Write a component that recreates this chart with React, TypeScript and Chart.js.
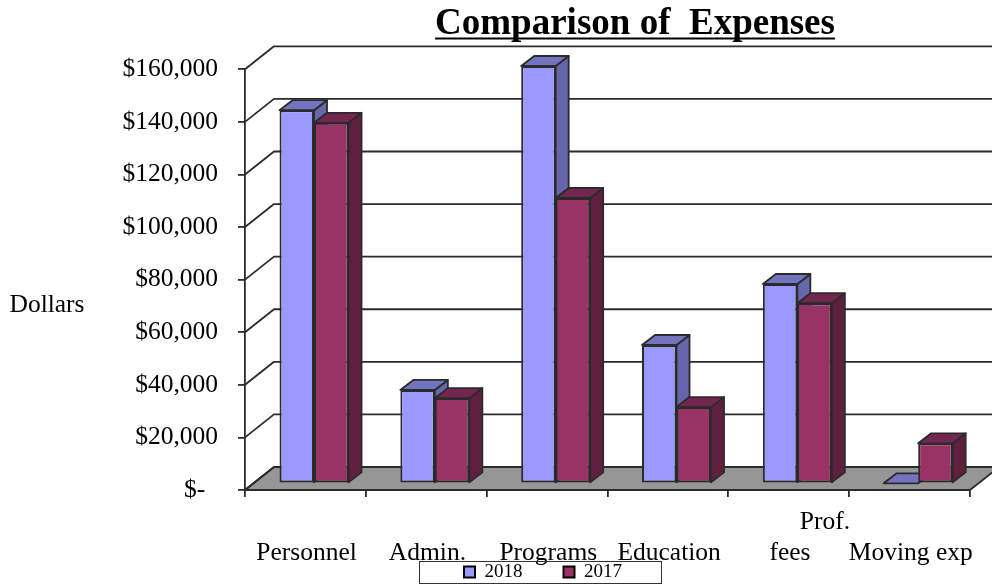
import React, { useEffect, useRef } from "react";
import { Chart, registerables } from "chart.js";

Chart.register(...registerables);

const categories: (string | string[])[] = [
  ["", "Personnel"],
  ["", "Admin."],
  ["", "Programs"],
  ["", "Education"],
  ["           Prof.", "fees"],
  ["", "Moving exp"],
];
const series2018 = [141900, 35500, 158700, 52600, 75800, 0];
const series2017 = [137100, 32400, 108500, 29000, 68500, 15200];
const chartTitle = "Comparison of  Expenses";
const yAxisTitle = "Dollars";
const FONT = "'Liberation Serif', serif";
const TEXT_SIZE = 25.5;

const WALL = { dx: 29, dy: 23 };
const BAR_SHIFT = { dx: 8.6, dy: 6.7 };
const BAR_DEPTH = { dx: 13, dy: 10 };
const LINE = "#2b2b2b";
const shades: Record<number, { top: string; side: string }> = {
  0: { top: "#7373BF", side: "#6666AA" },
  1: { top: "#732650", side: "#5F2040" },
};

const poly = (ctx: CanvasRenderingContext2D, pts: number[][], fill: string | null, stroke: string | null, lw = 1.8) => {
  ctx.beginPath();
  pts.forEach((p, i) => (i ? ctx.lineTo(p[0], p[1]) : ctx.moveTo(p[0], p[1])));
  ctx.closePath();
  if (fill) { ctx.fillStyle = fill; ctx.fill(); }
  if (stroke) { ctx.strokeStyle = stroke; ctx.lineWidth = lw; ctx.lineJoin = "round"; ctx.stroke(); }
};

const threeD = {
  id: "threeD",
  beforeDraw(chart: any) {
    // place title and legend where the reference has them
    const tb = chart.titleBlock;
    tb.left = 300; tb.right = 970;
    const lg = chart.legend;
    const pad = lg.options.labels.padding;
    lg.left = 413; lg.right = 673; lg.top = 562.5 - pad; lg.bottom = 584;

    const ctx = chart.ctx;
    const x = chart.scales.x, y = chart.scales.y;
    const l = x.left, r = x.right, b = y.bottom;
    ctx.save();
    poly(ctx, [[l, b], [r, b], [r + WALL.dx, b - WALL.dy], [l + WALL.dx, b - WALL.dy]], "#969696", LINE);
    ctx.strokeStyle = LINE;
    ctx.lineWidth = 1.8;
    y.ticks.forEach((tk: any) => {
      const py = y.getPixelForValue(tk.value);
      ctx.beginPath();
      ctx.moveTo(l, py);
      ctx.lineTo(l + WALL.dx, py - WALL.dy);
      ctx.lineTo(r + WALL.dx, py - WALL.dy);
      ctx.stroke();
    });
    ctx.restore();
  },
  beforeDatasetsDraw(chart: any) {
    const ctx = chart.ctx;
    ctx.save();
    ctx.translate(BAR_SHIFT.dx, -BAR_SHIFT.dy);
    [0, 1].forEach((index) => {
      const shade = shades[index];
      chart.getDatasetMeta(index).data.forEach((bar: any) => {
        const p = bar.getProps(["x", "y", "base", "width"], true);
        const L = p.x - p.width / 2, R = p.x + p.width / 2;
        const d = BAR_DEPTH;
        if (p.base - p.y > 0.5) {
          poly(ctx, [[R, p.y], [R + d.dx, p.y - d.dy], [R + d.dx, p.base - d.dy], [R, p.base]], shade.side, LINE);
        }
        poly(ctx, [[L, p.y], [R, p.y], [R + d.dx, p.y - d.dy], [L + d.dx, p.y - d.dy]], shade.top, LINE);
      });
    });
  },
  afterDatasetsDraw(chart: any) {
    chart.ctx.restore();
  },
  afterDraw(chart: any) {
    const ctx = chart.ctx;
    ctx.save();
    // legend frame
    ctx.strokeStyle = "#333";
    ctx.lineWidth = 1;
    ctx.strokeRect(419.5, 561.5, 242, 22);
    // horizontal axis title
    ctx.fillStyle = "#000";
    ctx.font = `${TEXT_SIZE}px ${FONT}`;
    ctx.textAlign = "center";
    ctx.textBaseline = "middle";
    ctx.fillText(yAxisTitle, 47, 305);
    // title underline
    const tb = chart.titleBlock;
    const f = chart.options.plugins.title.font;
    ctx.font = `bold ${f.size}px ${FONT}`;
    const w = ctx.measureText(chartTitle).width;
    const cx = (tb.left + tb.right) / 2;
    ctx.strokeStyle = "#000";
    ctx.lineWidth = 2;
    ctx.beginPath();
    ctx.moveTo(cx - w / 2, 38.5);
    ctx.lineTo(cx + w / 2, 38.5);
    ctx.stroke();
    ctx.restore();
  },
};

export default function App() {
  const ref = useRef<HTMLCanvasElement>(null);
  useEffect(() => {
    if (!ref.current) return;
    const chart = new Chart(ref.current, {
      type: "bar",
      plugins: [threeD],
      data: {
        labels: categories as any,
        datasets: [
          { label: "2018", data: series2018, backgroundColor: "#9999FF", borderColor: LINE, borderWidth: 2, borderSkipped: false, clip: false as any },
          { label: "2017", data: series2017, backgroundColor: "#993366", borderColor: LINE, borderWidth: 2, borderSkipped: false, clip: false as any },
        ],
      },
      options: {
        responsive: false,
        animation: false,
        layout: { padding: { top: 0, left: 0, right: 22, bottom: 0 } },
        datasets: { bar: { categoryPercentage: 0.571, barPercentage: 1 } },
        plugins: {
          tooltip: { enabled: false },
          title: {
            display: true,
            text: chartTitle,
            color: "#000",
            font: { family: FONT, size: 37, weight: "bold", lineHeight: 1 },
            padding: { top: 6, bottom: 26.3 },
          },
          legend: {
            display: true,
            position: "bottom",
            maxHeight: 4,
            labels: {
              color: "#000",
              boxWidth: 11,
              boxHeight: 11,
              padding: 41,
              font: { family: FONT, size: 19 },
              generateLabels: (c: any) =>
                (Chart.defaults.plugins.legend.labels as any).generateLabels(c).map((it: any) => ({ ...it, lineWidth: 2, strokeStyle: "#000" })),
            },
          },
        },
        scales: {
          x: {
            offset: true,
            afterFit: (s: any) => { s.height = 90; s._computeLabelArea = () => undefined; },
            grid: { display: true, offset: true, drawOnChartArea: false, drawTicks: true, tickLength: 7, color: LINE, lineWidth: 1.8 },
            border: { display: true, color: LINE, width: 1.8 },
            ticks: {
              color: "#000",
              autoSkip: false,
              maxRotation: 0,
              minRotation: 0,
              padding: 9.5,
              labelOffset: 1.2,
              font: { family: FONT, size: TEXT_SIZE, lineHeight: 1.22 },
            },
          },
          y: {
            min: 0,
            max: 160000,
            afterFit: (s: any) => { s.width = 245; },
            grid: { drawOnChartArea: false, drawTicks: true, tickLength: 7, color: LINE, lineWidth: 1.8 },
            border: { display: true, color: LINE, width: 1.8 },
            ticks: {
              color: "#000",
              stepSize: 20000,
              padding: 20,
              font: { family: FONT, size: TEXT_SIZE },
              callback: (v: any) => (v === 0 ? "$-\u00A0\u00A0" : "$" + Number(v).toLocaleString("en-US")),
            },
          },
        },
      } as any,
    });
    return () => chart.destroy();
  }, []);
  return <canvas ref={ref} width={992} height={584} style={{ position: "absolute", left: 0, top: 0, display: "block" }} />;
}
